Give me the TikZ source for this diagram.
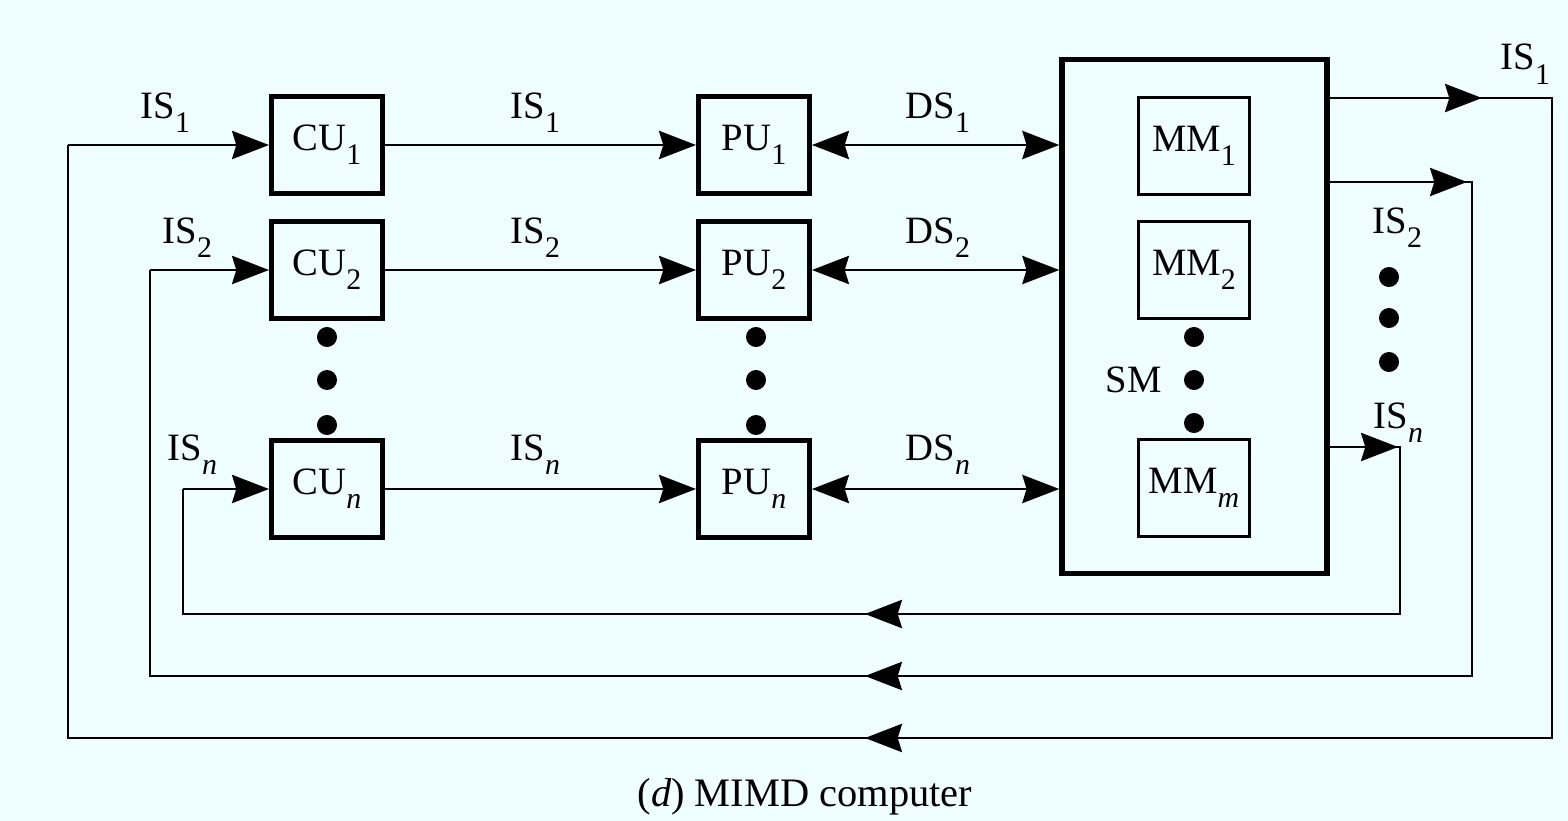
\documentclass[tikz,border=0pt]{standalone}
\usepackage{fontspec}
\setmainfont{Liberation Serif}
\usetikzlibrary{arrows.meta,calc}
\definecolor{bgc}{RGB}{239,254,254}
\newcommand\sbx[1]{\raisebox{-4pt}{\fontsize{8.5}{9}\selectfont #1}}
\begin{document}
\begin{tikzpicture}[x=0.01cm,y=-0.01cm,
  every node/.style={font=\fontsize{11}{13}\selectfont},
  unitbox/.style={draw, line width=1.4pt, minimum width=1.11cm, minimum height=0.97cm, inner sep=0pt},
  membox/.style={draw, line width=0.7pt, minimum width=1.11cm, minimum height=0.97cm, inner sep=0pt},
  wire/.style={line width=0.85pt},
  arr/.style={-{Stealth[length=10.5pt,width=8pt,inset=1.2pt]}},
  darr/.style={{Stealth[length=10.5pt,width=8pt,inset=1.2pt]}-{Stealth[length=10.5pt,width=8pt,inset=1.2pt]}},
  lbl/.style={anchor=base west, inner sep=0pt},
  bigdot/.style={circle, fill, inner sep=0pt, minimum size=0.2cm}]
\fill[bgc] (0,0) rectangle (1568,821);
\useasboundingbox (0,0) rectangle (1568,821);

% control units
\node[unitbox] (CU1) at (327,145) {CU\sbx{1}};
\node[unitbox] (CU2) at (327,270) {CU\sbx{2}};
\node[unitbox] (CUn) at (327,489) {CU\sbx{\textit{n}}};
% processing units
\node[unitbox] (PU1) at (754,145) {PU\sbx{1}};
\node[unitbox] (PU2) at (754,270) {PU\sbx{2}};
\node[unitbox] (PUn) at (754,489) {PU\sbx{\textit{n}}};
% shared memory
\node[draw, line width=1.5pt, minimum width=2.65cm, minimum height=5.13cm, inner sep=0pt] (SM) at (1194.5,316.5) {};
\node[membox] (MM1) at (1194,146) {MM\sbx{1}};
\node[membox] (MM2) at (1194,270) {MM\sbx{2}};
\node[membox] (MMm) at (1194,488) {MM\sbx{\textit{m}}};
\node[lbl] (SMt) at (1105,393) {SM};

% dots
\foreach \yy [count=\i] in {337,380,425} {
  \node[bigdot] (cd\i) at (327,\yy) {};
  \node[bigdot] (pd\i) at (756,\yy) {};
}
\foreach \yy [count=\i] in {337,380,423} \node[bigdot] (md\i) at (1194,\yy) {};
\foreach \yy [count=\i] in {277,318,362} \node[bigdot] (rd\i) at (1389,\yy) {};

% CU -> PU
\draw[wire,arr] (CU1.east) -- (CU1.east -| PU1.west);
\draw[wire,arr] (CU2.east) -- (CU2.east -| PU2.west);
\draw[wire,arr] (CUn.east) -- (CUn.east -| PUn.west);
% PU <-> SM
\draw[wire,darr] (PU1.east) -- (PU1.east -| SM.west);
\draw[wire,darr] (PU2.east) -- (PU2.east -| SM.west);
\draw[wire,darr] (PUn.east) -- (PUn.east -| SM.west);

% feedback coordinates
\coordinate (r1) at (1552,98);  \coordinate (m1) at (1482,98);
\coordinate (b1) at (1552,738); \coordinate (k1) at (865,738);
\coordinate (l1) at (68,738);   \coordinate (i1) at (68,145);
\coordinate (r2) at (1472,182); \coordinate (m2) at (1467,182);
\coordinate (b2) at (1472,676); \coordinate (k2) at (865,676);
\coordinate (l2) at (150,676);  \coordinate (i2) at (150,270);
\coordinate (r3) at (1400,447); \coordinate (m3) at (1398,447);
\coordinate (b3) at (1400,614); \coordinate (k3) at (865,614);
\coordinate (l3) at (183,614);  \coordinate (i3) at (183,489);

\draw[wire,line join=miter] (SM.east |- r1) -- (r1) -- (b1) -- (l1) -- (i1);
\draw[wire,line join=miter] (SM.east |- r2) -- (r2) -- (b2) -- (l2) -- (i2);
\draw[wire,line join=miter] (SM.east |- r3) -- (r3) -- (b3) -- (l3) -- (i3);
\draw[wire,arr] (SM.east |- r1) -- (m1);
\draw[wire,arr] (SM.east |- r2) -- (m2);
\draw[wire,arr] (SM.east |- r3) -- (m3);
\draw[wire,arr] (b1) -- (k1);
\draw[wire,arr] (b2) -- (k2);
\draw[wire,arr] (b3) -- (k3);
\draw[wire,arr] (i1) -- (CU1.west);
\draw[wire,arr] (i2) -- (CU2.west);
\draw[wire,arr] (i3) -- (CUn.west);

% labels
\node[lbl] (la1) at (140,118) {IS\sbx{1}};
\node[lbl] (la2) at (162,243) {IS\sbx{2}};
\node[lbl] (la3) at (167,460) {IS\sbx{\textit{n}}};
\node[lbl] (lb1) at (510,118) {IS\sbx{1}};
\node[lbl] (lb2) at (510,243) {IS\sbx{2}};
\node[lbl] (lb3) at (510,460) {IS\sbx{\textit{n}}};
\node[lbl] (lc1) at (905,118) {DS\sbx{1}};
\node[lbl] (lc2) at (905,243) {DS\sbx{2}};
\node[lbl] (lc3) at (905,460) {DS\sbx{\textit{n}}};
\node[lbl] (ld1) at (1500,70) {IS\sbx{1}};
\node[lbl] (ld2) at (1372,233) {IS\sbx{2}};
\node[lbl] (ld3) at (1373,428) {IS\sbx{\textit{n}}};

\node[anchor=base, inner sep=0pt, font=\fontsize{11.5}{13}\selectfont] (cap) at (805,806) {(\textit{d}) MIMD computer};
\end{tikzpicture}
\end{document}
